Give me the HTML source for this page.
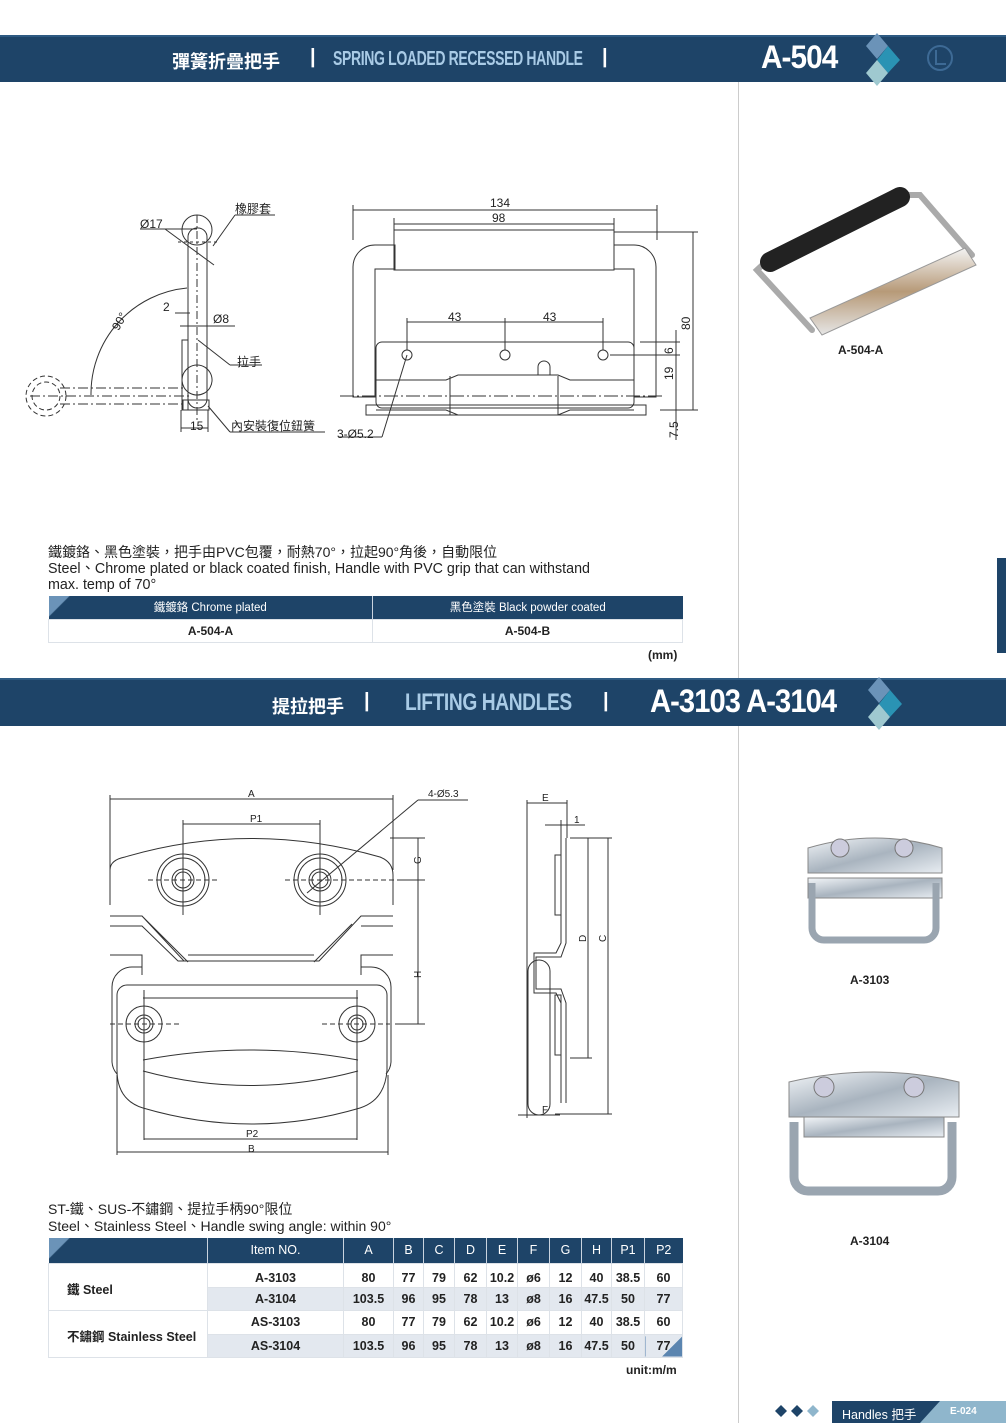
<!DOCTYPE html>
<html><head><meta charset="utf-8">
<style>
*{margin:0;padding:0;box-sizing:border-box}
body{width:1006px;height:1423px;background:#fff;position:relative;overflow:hidden;font-family:"Liberation Sans","Noto Sans CJK TC",sans-serif;color:#222}
.a{position:absolute;white-space:nowrap}
.band{position:absolute;left:0;width:1006px;background:#1e4468;border-top:2px solid #2e5a82}
.cn{color:#fff;font-size:18px;font-weight:bold}
.en{color:#a9cbe6;font-weight:bold;font-size:20px;letter-spacing:-0.5px;transform-origin:0 0}
.big{color:#fff;font-weight:bold;font-size:32px;letter-spacing:-1px;transform-origin:0 0}
.bar{color:#fff;font-size:20px;font-weight:bold}
table{border-collapse:collapse;position:absolute}
td{font-size:12.5px;text-align:center;height:23px;border:1px solid #dde2e8;color:#222;font-weight:bold}
.hd td{background:#1e4468;color:#fff;font-weight:normal;border:none;border-left:1px solid #c9d3df}
.g td.v{background:#e3e8ef}
</style></head><body>

<div class="band" style="top:35px;height:47px"></div>
<div class="a cn" style="left:172px;top:48px">彈簧折疊把手</div>
<div class="a bar" style="left:310px;top:46px">|</div>
<div class="a en" style="left:333px;top:48px;transform:scaleX(0.7)">SPRING LOADED RECESSED HANDLE</div>
<div class="a bar" style="left:602px;top:46px">|</div>
<div class="a big" style="left:761px;top:39px;transform:scaleX(0.93)">A-504</div>
<svg class="a" style="left:860px;top:33px" width="50" height="55"><polygon points="17,0 28,13 17,26 6,13" fill="#6b93b8"/><polygon points="28,13 40,27 28,40 17,27" fill="#2a93b4"/><polygon points="17,27 28,40 17,53 6,40" fill="#9fc9d0"/></svg>
<svg class="a" style="left:925px;top:43px" width="30" height="30"><circle cx="15" cy="15" r="12" fill="none" stroke="#3d6a95" stroke-width="2"/><path d="M11 7v14h10" stroke="#3d6a95" stroke-width="2" fill="none"/></svg>

<div class="a" style="left:738px;top:82px;width:1px;height:1341px;background:#ccc"></div>
<div class="a" style="left:997px;top:558px;width:9px;height:95px;background:#1e4468"></div>

<svg class="a" style="left:0;top:180px" width="730" height="270" font-family="Liberation Sans,sans-serif" font-size="12" fill="none" stroke="#333" stroke-width="1">
<g transform="translate(0,-180)">
<circle cx="197" cy="230" r="15"/>
<rect x="188" y="228" width="19" height="180" rx="9"/>
<line x1="197" y1="215" x2="197" y2="420" stroke-dasharray="8,3,2,3"/>
<line x1="178" y1="242" x2="218" y2="242" stroke-dasharray="3,3"/>
<rect x="182" y="340" width="6" height="70"/>
<path d="M197 395a15 15 0 1 1 0.1 0"/>
<rect x="183" y="400" width="26" height="10"/>
<circle cx="46" cy="396" r="20" stroke-dasharray="5,3"/>
<circle cx="46" cy="396" r="14" stroke-dasharray="5,3"/>
<line x1="60" y1="388" x2="183" y2="388" stroke-dasharray="10,3,2,3"/>
<line x1="60" y1="404" x2="183" y2="404" stroke-dasharray="10,3,2,3"/>
<line x1="30" y1="396" x2="190" y2="396" stroke-dasharray="10,3,2,3"/>
<path d="M91 395 A 106 106 0 0 1 187 288"/>
<line x1="140" y1="229" x2="197" y2="229"/><line x1="165" y1="229" x2="214" y2="265"/>
<line x1="213" y1="246" x2="235" y2="215"/><line x1="235" y1="215" x2="275" y2="215"/>
<line x1="175" y1="313" x2="190" y2="313"/><line x1="180" y1="326" x2="235" y2="326"/>
<line x1="198" y1="340" x2="230" y2="365"/><line x1="230" y1="365" x2="262" y2="365"/>
<line x1="181" y1="410" x2="181" y2="432"/><line x1="208" y1="410" x2="208" y2="432"/><line x1="181" y1="428" x2="208" y2="428"/>
<line x1="208" y1="406" x2="230" y2="432"/><line x1="230" y1="432" x2="325" y2="432"/>
<path d="M395 245h-20a22 22 0 0 0 -22 22v130h22v-128h20z"/>
<path d="M614 245h20a22 22 0 0 1 22 22v130h-22v-128h-20z"/>
<rect x="394" y="230" width="220" height="40"/>
<rect x="376" y="342" width="258" height="66" rx="6"/>
<path d="M376 380h70l12 -5h100l12 5h64 M376 410h70l12 5h100l12 -5h64"/>
<rect x="366" y="405" width="280" height="10"/>
<line x1="450" y1="376" x2="450" y2="415"/><line x1="558" y1="376" x2="558" y2="415"/>
<circle cx="407" cy="355" r="5"/><circle cx="505" cy="355" r="5"/><circle cx="603" cy="355" r="5"/>
<path d="M538 375v-8a6 6 0 0 1 12 0v8"/>
<line x1="340" y1="396" x2="665" y2="396" stroke-dasharray="14,3,2,3"/>
<line x1="353" y1="205" x2="353" y2="240"/><line x1="657" y1="205" x2="657" y2="240"/>
<line x1="353" y1="210" x2="657" y2="210"/><line x1="394" y1="224" x2="614" y2="224"/>
<line x1="394" y1="218" x2="394" y2="230"/><line x1="614" y1="218" x2="614" y2="230"/>
<line x1="407" y1="322" x2="603" y2="322"/><line x1="407" y1="318" x2="407" y2="350"/><line x1="505" y1="318" x2="505" y2="350"/><line x1="603" y1="318" x2="603" y2="350"/>
<line x1="614" y1="232" x2="698" y2="232"/><line x1="693" y1="232" x2="693" y2="410"/>
<line x1="660" y1="410" x2="698" y2="410"/><line x1="676" y1="330" x2="676" y2="440"/>
<line x1="640" y1="342" x2="680" y2="342"/><line x1="610" y1="355" x2="680" y2="355"/>
<line x1="407" y1="355" x2="382" y2="437"/><line x1="338" y1="437" x2="382" y2="437"/>
</g>
<g fill="#222" stroke="none">
<text x="140" y="48">Ø17</text><text x="235" y="33">橡膠套</text>
<text x="163" y="131">2</text><text x="213" y="143">Ø8</text><text x="237" y="186">拉手</text>
<text x="190" y="250">15</text><text x="231" y="250">內安裝復位鈕簧</text>
<text x="112" y="148" transform="rotate(-60 118 144)">90°</text>
<text x="490" y="27">134</text><text x="492" y="42">98</text>
<text x="448" y="141">43</text><text x="543" y="141">43</text>
<text x="337" y="258">3-Ø5.2</text>
<text x="690" y="150" transform="rotate(-90 690 150)">80</text>
<text x="673" y="174" transform="rotate(-90 673 174)">6</text>
<text x="673" y="200" transform="rotate(-90 673 200)">19</text>
<text x="678" y="258" transform="rotate(-90 678 258)">7.5</text>
</g>
</svg>

<svg class="a" style="left:740px;top:170px" width="260" height="170">
<defs><linearGradient id="br" x1="0" y1="0" x2="0" y2="1"><stop offset="0" stop-color="#f3f3f3"/><stop offset=".5" stop-color="#b79a78"/><stop offset="1" stop-color="#e6e6e6"/></linearGradient></defs>
<path d="M30 88 L17 100 L72 160 M160 25 L180 25 L232 85" stroke="#aaa" stroke-width="6" fill="none" stroke-linecap="round"/>
<path d="M30 92 L160 27" stroke="#222" stroke-width="20" stroke-linecap="round"/>
<path d="M70 148 L225 78 L236 95 L82 165 Z" fill="url(#br)" stroke="#999"/>
</svg>
<div class="a" style="left:838px;top:343px;font-size:12px;font-weight:bold">A-504-A</div>

<div class="a" style="left:48px;top:543px;font-size:14px;line-height:18px">鐵鍍鉻、黑色塗裝，把手由PVC包覆，耐熱70°，拉起90°角後，自動限位</div>
<div class="a" style="left:48px;top:561px;font-size:14.3px;line-height:16px">Steel、Chrome plated or black coated finish, Handle with PVC grip that can withstand</div>
<div class="a" style="left:48px;top:577px;font-size:14.3px;line-height:16px">max. temp of 70°</div>

<table style="left:48px;top:596px;width:635px">
<tr class="hd"><td style="height:23px;width:324px;font-size:11.5px;border-left:none;background:linear-gradient(135deg,#6b93b8 0,#6b93b8 14px,#1e4468 15px)">鐵鍍鉻 Chrome plated</td><td style="font-size:11.5px">黑色塗裝 Black powder coated</td></tr>
<tr><td style="font-size:12px">A-504-A</td><td style="font-size:12px">A-504-B</td></tr>
</table>
<div class="a" style="left:648px;top:648px;font-size:12px;font-weight:bold">(mm)</div>

<div class="band" style="top:678px;height:48px"></div>
<div class="a cn" style="left:272px;top:693px">提拉把手</div>
<div class="a bar" style="left:364px;top:690px">|</div>
<div class="a en" style="left:405px;top:689px;font-size:24px;transform:scaleX(0.8)">LIFTING HANDLES</div>
<div class="a bar" style="left:603px;top:690px">|</div>
<div class="a big" style="left:650px;top:683px;transform:scaleX(0.91)">A-3103 A-3104</div>
<svg class="a" style="left:862px;top:677px" width="50" height="55"><polygon points="17,0 28,13 17,26 6,13" fill="#6b93b8"/><polygon points="28,13 40,27 28,40 17,27" fill="#2a93b4"/><polygon points="17,27 28,40 17,53 6,40" fill="#9fc9d0"/></svg>

<svg class="a" style="left:0;top:0" width="730" height="1170" font-family="Liberation Sans,sans-serif" font-size="10" fill="none" stroke="#333" stroke-width="1">
<line x1="110" y1="799" x2="393" y2="799"/><line x1="110" y1="795" x2="110" y2="870"/><line x1="393" y1="795" x2="393" y2="870"/>
<line x1="183" y1="824" x2="320" y2="824"/><line x1="183" y1="820" x2="183" y2="915"/><line x1="320" y1="820" x2="320" y2="915"/>
<path d="M110 905 V870 Q110 860 125 857 Q250 820 380 857 Q393 862 393 875 V905"/>
<circle cx="183" cy="880" r="26"/><circle cx="183" cy="880" r="22"/><circle cx="183" cy="880" r="11"/><circle cx="183" cy="880" r="8"/>
<circle cx="320" cy="880" r="26"/><circle cx="320" cy="880" r="22"/><circle cx="320" cy="880" r="11"/><circle cx="320" cy="880" r="8"/>
<line x1="148" y1="880" x2="220" y2="880" stroke-dasharray="5,3"/><line x1="285" y1="880" x2="420" y2="880" stroke-dasharray="5,3"/>
<path d="M110 916h32l40 40h-0 M110 926h32l36 35h10 M142 916l42 45h135l42-45h32 M150 924l38 38 M352 924l-38 38 M188 955h126 M361 926h32"/>
<path d="M110 955h32v20 M393 955h-32v20"/>
<path d="M142 967h-10a20 20 0 0 0 -20 20v75a20 20 0 0 0 5 12 M361 967h10a20 20 0 0 1 20 20v75a20 20 0 0 1 -5 12"/>
<path d="M117 1070v-75a10 10 0 0 1 10 -10h250a10 10 0 0 1 10 10v75 Q385 1100 360 1108 Q252 1140 143 1108 Q117 1100 117 1070"/>
<path d="M143 998h215 M143 1060 Q250 1040 358 1060 M143 1071 Q250 1100 358 1071"/>
<circle cx="144" cy="1024" r="18"/><circle cx="144" cy="1024" r="9"/><circle cx="144" cy="1024" r="6"/>
<circle cx="357" cy="1024" r="18"/><circle cx="357" cy="1024" r="9"/><circle cx="357" cy="1024" r="6"/>
<line x1="110" y1="1024" x2="180" y2="1024" stroke-dasharray="5,3"/><line x1="322" y1="1024" x2="390" y2="1024" stroke-dasharray="5,3"/>
<line x1="144" y1="990" x2="144" y2="1140"/><line x1="357" y1="990" x2="357" y2="1140"/><line x1="144" y1="1139" x2="357" y2="1139"/>
<line x1="117" y1="1075" x2="117" y2="1155"/><line x1="388" y1="1075" x2="388" y2="1155"/><line x1="117" y1="1152" x2="388" y2="1152"/>
<line x1="390" y1="838" x2="425" y2="838"/><line x1="400" y1="880" x2="425" y2="880"/><line x1="395" y1="1024" x2="425" y2="1024"/>
<line x1="418" y1="838" x2="418" y2="1024"/>
<line x1="307" y1="893" x2="418" y2="800"/><line x1="418" y1="800" x2="468" y2="800"/>
<path d="M561 838v105l-5 10h-22v40h22l5 10v100"/><path d="M566 838v105l-5 14h-25v32h25l5 14v100"/>
<rect x="555" y="855" width="6" height="60"/><rect x="555" y="995" width="6" height="60"/>
<rect x="528" y="960" width="22" height="155" rx="11"/>
<line x1="527" y1="803" x2="567" y2="803"/><line x1="527" y1="800" x2="527" y2="1118"/><line x1="567" y1="800" x2="567" y2="838"/>
<line x1="545" y1="825" x2="585" y2="825"/><line x1="561" y1="820" x2="561" y2="838"/>
<line x1="570" y1="838" x2="612" y2="838"/><line x1="570" y1="1058" x2="592" y2="1058"/><line x1="555" y1="1114" x2="612" y2="1114"/>
<line x1="588" y1="838" x2="588" y2="1058"/><line x1="608" y1="838" x2="608" y2="1114"/>
<line x1="518" y1="1115" x2="560" y2="1115"/>
<g fill="#222" stroke="none">
<text x="248" y="797">A</text><text x="250" y="822">P1</text><text x="428" y="797">4-Ø5.3</text>
<text x="246" y="1137">P2</text><text x="248" y="1152">B</text>
<text x="542" y="801">E</text><text x="574" y="823">1</text><text x="542" y="1113">F</text>
<text x="421" y="864" transform="rotate(-90 421 864)">G</text>
<text x="421" y="978" transform="rotate(-90 421 978)">H</text>
<text x="586" y="942" transform="rotate(-90 586 942)">D</text>
<text x="606" y="942" transform="rotate(-90 606 942)">C</text>
</g>
</svg>

<svg class="a" style="left:800px;top:828px" width="150" height="120">
<defs><linearGradient id="z" x1="0" y1="0" x2="1" y2="1"><stop offset="0" stop-color="#f2f5f8"/><stop offset=".5" stop-color="#a9b4bf"/><stop offset="1" stop-color="#e8edf2"/></linearGradient></defs>
<path d="M8 20 Q75 0 142 20 V45 H8 Z" fill="url(#z)" stroke="#888"/>
<circle cx="40" cy="20" r="9" fill="#ccd" stroke="#777"/><circle cx="104" cy="20" r="9" fill="#ccd" stroke="#777"/>
<path d="M8 50h134v20H8z" fill="url(#z)" stroke="#888"/>
<path d="M12 55v45a12 12 0 0 0 12 12h100a12 12 0 0 0 12 -12v-45" stroke="#9aa5b0" stroke-width="7" fill="none"/>
</svg>
<div class="a" style="left:850px;top:973px;font-size:12px;font-weight:bold">A-3103</div>
<svg class="a" style="left:784px;top:1062px" width="180" height="140">
<path d="M5 20 Q90 0 175 20 V55 H5 Z" fill="url(#z)" stroke="#888"/>
<circle cx="40" cy="25" r="10" fill="#ccd" stroke="#777"/><circle cx="130" cy="25" r="10" fill="#ccd" stroke="#777"/>
<path d="M10 60v55a14 14 0 0 0 14 14h130a14 14 0 0 0 14 -14v-55" stroke="#9aa5b0" stroke-width="9" fill="none"/>
<path d="M20 55h140v20H20z" fill="url(#z)" stroke="#888"/>
</svg>
<div class="a" style="left:850px;top:1234px;font-size:12px;font-weight:bold">A-3104</div>

<div class="a" style="left:48px;top:1201px;font-size:14px;line-height:17px">ST-鐵、SUS-不鏽鋼、提拉手柄90°限位</div>
<div class="a" style="left:48px;top:1218px;font-size:14px;line-height:16px">Steel、Stainless Steel、Handle swing angle: within 90°</div>

<table style="left:48px;top:1238px;width:635px">
<tr class="hd"><td style="width:159px;height:25px;border-left:none;background:linear-gradient(135deg,#6b93b8 0,#6b93b8 14px,#1e4468 15px)"></td><td style="width:136px">Item NO.</td><td style="width:50px">A</td><td style="width:30px">B</td><td style="width:31px">C</td><td style="width:32px">D</td><td style="width:31px">E</td><td style="width:32px">F</td><td style="width:32px">G</td><td style="width:30px">H</td><td style="width:33px">P1</td><td>P2</td></tr>
<tr style="height:24px"><td rowspan="2" style="text-align:left;padding-left:18px;padding-top:4px">鐵 Steel</td><td style="padding-top:6px">A-3103</td><td style="padding-top:6px">80</td><td style="padding-top:6px">77</td><td style="padding-top:6px">79</td><td style="padding-top:6px">62</td><td style="padding-top:6px">10.2</td><td style="padding-top:6px">ø6</td><td style="padding-top:6px">12</td><td style="padding-top:6px">40</td><td style="padding-top:6px">38.5</td><td style="padding-top:6px">60</td></tr>
<tr class="g" style="height:23px"><td class="v">A-3104</td><td class="v">103.5</td><td class="v">96</td><td class="v">95</td><td class="v">78</td><td class="v">13</td><td class="v">ø8</td><td class="v">16</td><td class="v">47.5</td><td class="v">50</td><td class="v">77</td></tr>
<tr style="height:24px"><td rowspan="2" style="text-align:left;padding-left:18px;padding-top:4px">不鏽鋼 Stainless Steel</td><td>AS-3103</td><td>80</td><td>77</td><td>79</td><td>62</td><td>10.2</td><td>ø6</td><td>12</td><td>40</td><td>38.5</td><td>60</td></tr>
<tr class="g" style="height:23px"><td class="v">AS-3104</td><td class="v">103.5</td><td class="v">96</td><td class="v">95</td><td class="v">78</td><td class="v">13</td><td class="v">ø8</td><td class="v">16</td><td class="v">47.5</td><td class="v">50</td><td class="v" style="background:linear-gradient(135deg,#e3e8ef 0,#e3e8ef 65%,#5b85b0 66%)">77</td></tr>
</table>
<div class="a" style="left:626px;top:1363px;font-size:12px;font-weight:bold">unit:m/m</div>

<svg class="a" style="left:774px;top:1403px" width="50" height="16"><polygon points="7,2 13,8 7,14 1,8" fill="#1e4468"/><polygon points="23,2 29,8 23,14 17,8" fill="#1e4468"/><polygon points="39,2 45,8 39,14 33,8" fill="#8fb6cc"/></svg>
<div class="a" style="left:832px;top:1401px;width:174px;height:22px;background:#1e4468"></div>
<div class="a" style="left:920px;top:1401px;width:86px;height:22px;background:#8fb6cc;clip-path:polygon(20px 0,100% 0,100% 100%,0 100%)"></div>
<div class="a" style="left:842px;top:1404px;font-size:12.5px;color:#fff">Handles 把手</div>
<div class="a" style="left:950px;top:1406px;font-size:10px;color:#fff;font-weight:bold">E-024</div>
</body></html>
